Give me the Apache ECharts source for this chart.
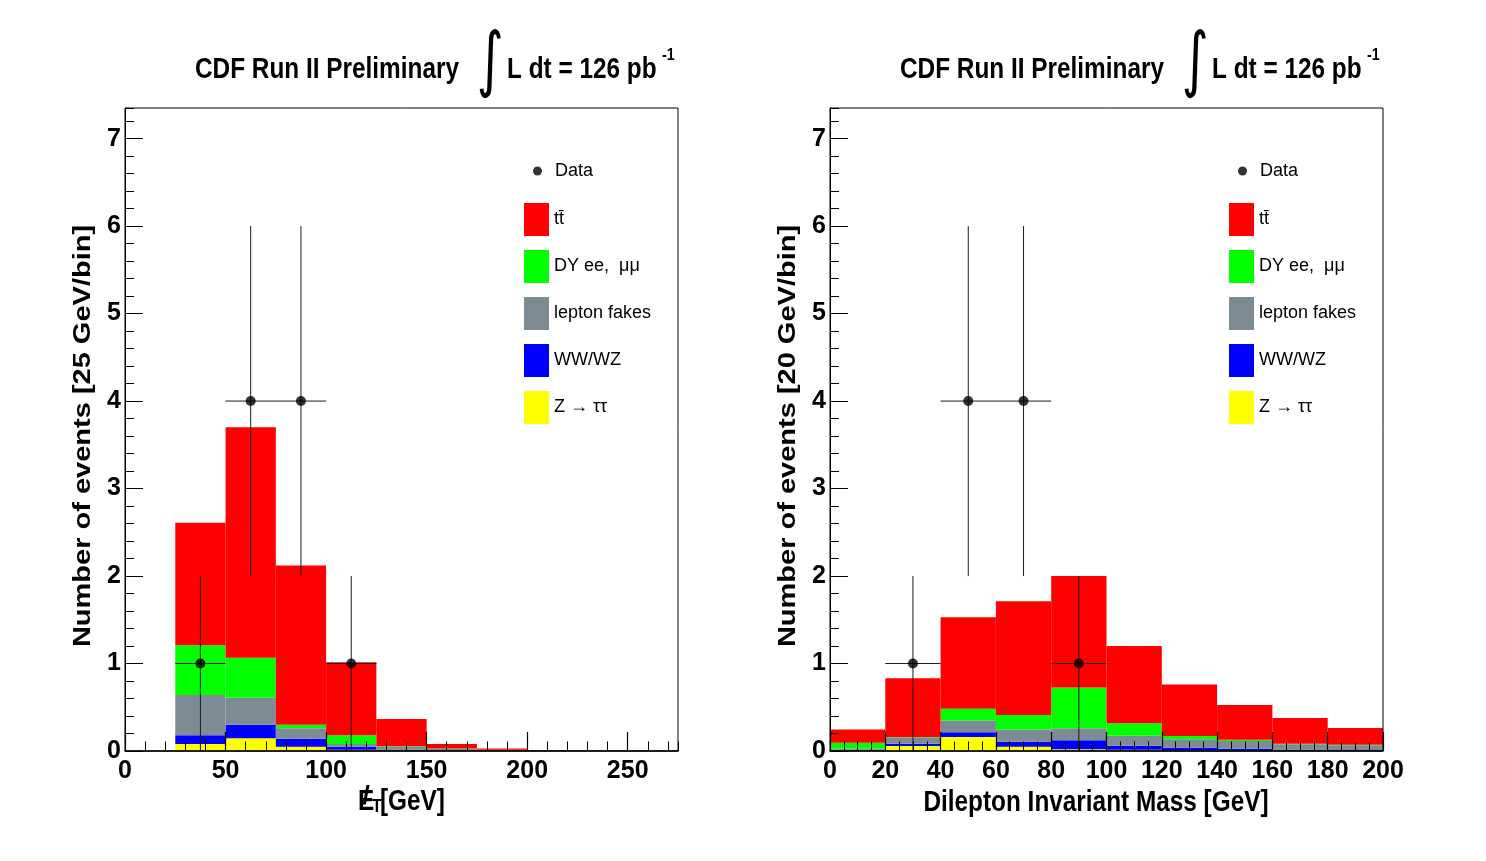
<!DOCTYPE html>
<html><head><meta charset="utf-8">
<script src="https://cdn.jsdelivr.net/npm/echarts@6/dist/echarts.min.js"></script>
<style>html,body{margin:0;padding:0;background:#fff}#c{width:1486px;height:861px}</style>
</head><body><div id="c"></div>
<script>
// ---------- data : missing-ET plot (25 GeV bins) ----------
const metEdges = [25, 50, 75, 100, 125, 150, 175, 200, 225, 250, 275];
const metZtautau = [0.08, 0.145, 0.05, 0.015, 0.005, 0.002, 0.001, 0, 0, 0];
const metWW      = [0.10, 0.155, 0.09, 0.035, 0.01, 0.005, 0.003, 0.002, 0.001, 0.001];
const metFakes   = [0.46, 0.31, 0.12, 0.03, 0.035, 0.02, 0.01, 0.004, 0.003, 0.002];
const metDY      = [0.57, 0.455, 0.04, 0.10, 0.005, 0.003, 0.001, 0, 0, 0];
const metTT      = [1.40, 2.635, 1.82, 0.835, 0.31, 0.05, 0.015, 0.006, 0.004, 0.003];
const metDataX   = [37.5, 62.5, 87.5, 112.5];
const metDataY   = [1, 4, 4, 1];
const metDataXErr = [12.5, 12.5, 12.5, 12.5];
const metDataYErr = [1, 2, 2, 1];

// ---------- data : dilepton mass plot (20 GeV bins) ----------
const mllEdges = [0, 20, 40, 60, 80, 100, 120, 140, 160, 180, 200];
const mllZtautau = [0.005, 0.057, 0.16, 0.05, 0.02, 0.015, 0.005, 0.003, 0.002, 0.002];
const mllWW      = [0.01, 0.026, 0.053, 0.056, 0.102, 0.045, 0.033, 0.022, 0.013, 0.01];
const mllFakes   = [0.012, 0.073, 0.137, 0.141, 0.137, 0.115, 0.095, 0.089, 0.061, 0.054];
const mllDY      = [0.068, 0.005, 0.133, 0.164, 0.468, 0.141, 0.038, 0.015, 0.007, 0.006];
const mllTT      = [0.152, 0.672, 1.047, 1.301, 1.273, 0.884, 0.589, 0.396, 0.294, 0.191];
const mllDataX   = [30, 50, 70, 90];
const mllDataY   = [1, 4, 4, 1];
const mllDataXErr = [10, 10, 10, 10];
const mllDataYErr = [1, 2, 2, 1];

const yTicksMajor = 1, yTicksMinor = 0.2, yMax = 7.35;
const legendNames = ['tt\u0304', 'DY ee,  \u03bc\u03bc', 'lepton fakes', 'WW/WZ', 'Z \u2192 \u03c4\u03c4'];

// ---------- styling ----------
const FF = '"Liberation Sans", Arial, Helvetica, sans-serif';
const COL = {tt:'#ff0000', dy:'#00ff00', fakes:'#7d8b94', ww:'#0000ff', ztt:'#ffff00'};

function histSeries(name, color, edges, base, vals, xi, yi) {
  const data = vals.map((v, i) => [edges[i], edges[i + 1], base[i], base[i] + v]);
  return {
    type: 'custom', name, xAxisIndex: xi, yAxisIndex: yi, z: 2,
    itemStyle: {color}, encode: {x: [0, 1], y: [2, 3]}, data, silent: true,
    renderItem(params, api) {
      const p0 = api.coord([api.value(0), api.value(2)]);
      const p1 = api.coord([api.value(1), api.value(3)]);
      return {type: 'rect', shape: {x: p0[0], y: p1[1], width: p1[0] - p0[0], height: p0[1] - p1[1]},
              style: {fill: color}};
    }
  };
}
function stackSeries(edges, comps, xi, yi) {
  const out = [];
  let base = edges.slice(0, -1).map(() => 0);
  comps.forEach(c => {
    out.push(histSeries(c.name, c.color, edges, base, c.vals, xi, yi));
    base = base.map((b, i) => b + c.vals[i]);
  });
  return out;
}
function errSeries(xs, ys, exs, eys, xi, yi) {
  return {
    type: 'custom', xAxisIndex: xi, yAxisIndex: yi, z: 6, silent: true,
    data: xs.map((x, i) => [x, ys[i], exs[i], eys[i]]),
    renderItem(params, api) {
      const x = api.value(0), y = api.value(1), ex = api.value(2), ey = api.value(3);
      const a = api.coord([x - ex, y]), b = api.coord([x + ex, y]);
      const c = api.coord([x, y - ey]), d = api.coord([x, y + ey]);
      const st = {stroke: '#1a1a1a', lineWidth: 1};
      return {type: 'group', children: [
        {type: 'line', shape: {x1: a[0], y1: a[1], x2: b[0], y2: b[1]}, style: st},
        {type: 'line', shape: {x1: c[0], y1: c[1], x2: d[0], y2: d[1]}, style: st}
      ]};
    }
  };
}
function dataSeries(xs, ys, xi, yi) {
  return {type: 'scatter', name: 'Data', xAxisIndex: xi, yAxisIndex: yi, z: 7, silent: true,
          symbol: 'circle', symbolSize: 10, itemStyle: {color: '#000'},
          data: xs.map((x, i) => [x, ys[i]])};
}
function comps(z, w, f, d, t) {
  return [
    {name: legendNames[4], color: COL.ztt, vals: z},
    {name: legendNames[3], color: COL.ww, vals: w},
    {name: legendNames[2], color: COL.fakes, vals: f},
    {name: legendNames[1], color: COL.dy, vals: d},
    {name: legendNames[0], color: COL.tt, vals: t}
  ];
}

function mainX(grid, max, interval, minorSplit) {
  return {type: 'value', gridIndex: grid, min: 0, max, interval, position: 'bottom', z: 5,
    axisLine: {show: true, onZero: false, lineStyle: {color: '#000', width: 1.5}},
    axisTick: {show: true, inside: true, length: 19, lineStyle: {color: '#000', width: 1.2}},
    minorTick: minorSplit ? {show: true, splitNumber: minorSplit, length: 9.5, lineStyle: {color: '#000', width: 1}} : {show: false},
    axisLabel: {show: true, margin: 8, color: '#000', fontSize: 25, fontWeight: 'bold', fontFamily: FF,
                showMaxLabel: max % interval === 0, showMinLabel: true},
    splitLine: {show: false}, minorSplitLine: {show: false}};
}
function minorX(grid, max, interval) {
  return {type: 'value', gridIndex: grid, min: 0, max, interval, position: 'bottom', z: 5,
    axisLine: {show: false}, axisLabel: {show: false}, splitLine: {show: false},
    axisTick: {show: true, inside: true, length: 9.5, lineStyle: {color: '#000', width: 1}}};
}
function mainY(grid) {
  return {type: 'value', gridIndex: grid, min: 0, max: yMax, interval: yTicksMajor, position: 'left', z: 5,
    axisLine: {show: true, onZero: false, lineStyle: {color: '#000', width: 1}},
    axisTick: {show: true, inside: true, length: 18, lineStyle: {color: '#000', width: 1}},
    axisLabel: {show: true, margin: 4, color: '#000', fontSize: 25, fontWeight: 'bold', fontFamily: FF,
                showMaxLabel: false, showMinLabel: true},
    splitLine: {show: false}};
}
function minorY(grid) {
  return {type: 'value', gridIndex: grid, min: 0, max: yMax, interval: yTicksMinor, position: 'left', z: 5,
    axisLine: {show: false}, axisLabel: {show: false}, splitLine: {show: false},
    axisTick: {show: true, inside: true, length: 9, lineStyle: {color: '#000', width: 1}}};
}

function txt(x, y, text, size, o) {
  o = o || {};
  return {type: 'text', x, y, rotation: o.rot || 0,
    scaleX: o.sx === undefined ? 0.84 : o.sx, scaleY: o.sy === undefined ? 1 : o.sy, z: 10,
    style: {text, fontSize: size, fontWeight: o.w || 'bold', fontFamily: o.ff || FF, fill: '#000',
            align: o.align || 'left', verticalAlign: 'middle',
            textAlign: o.align || 'left', textVerticalAlign: 'middle'}};
}
function headerTexts(dx) {
  return [
    txt(195 + dx, 70, 'CDF Run II Preliminary', 29),
    txt(490 + dx, 64, '\u222B', 62, {align: 'center', ff: '"DejaVu Sans", sans-serif', w: 'normal', sx: 0.84, sy: 1.15}),
    txt(507 + dx, 70, 'L dt = 126 pb', 29),
    txt(662 + dx, 55, '-1', 17)
  ];
}
function legendPair(left, idPrefix) {
  return [
    {id: idPrefix + 'd', data: [{name: 'Data', icon: 'circle'}], left: left + 9, top: 162, padding: 0,
     itemWidth: 25, itemHeight: 9, selectedMode: false,
     textStyle: {fontSize: 18, color: '#000', fontFamily: FF}},
    {id: idPrefix + 'h', data: legendNames.map(n => ({name: n, icon: 'rect'})), orient: 'vertical',
     left, top: 203, padding: 0, itemWidth: 25, itemHeight: 33, itemGap: 14, selectedMode: false,
     textStyle: {fontSize: 18, color: '#000', fontFamily: FF}}
  ];
}

const chart = echarts.init(document.getElementById('c'), null, {renderer: 'canvas'});
const series = [].concat(
  stackSeries(metEdges, comps(metZtautau, metWW, metFakes, metDY, metTT), 0, 0),
  [errSeries(metDataX, metDataY, metDataXErr, metDataYErr, 0, 0), dataSeries(metDataX, metDataY, 0, 0)],
  stackSeries(mllEdges, comps(mllZtautau, mllWW, mllFakes, mllDY, mllTT), 2, 2),
  [errSeries(mllDataX, mllDataY, mllDataXErr, mllDataYErr, 2, 2), dataSeries(mllDataX, mllDataY, 2, 2)]
);

chart.setOption({
  animation: false,
  backgroundColor: '#fff',
  grid: [
    {left: 125, top: 108, width: 553, height: 643, containLabel: false, show: true, z: 5,
     borderColor: '#000', borderWidth: 1, backgroundColor: 'transparent'},
    {left: 830, top: 108, width: 553, height: 643, containLabel: false, show: true, z: 5,
     borderColor: '#000', borderWidth: 1, backgroundColor: 'transparent'}
  ],
  xAxis: [mainX(0, 275, 50, 0), minorX(0, 275, 10), mainX(1, 200, 20, 4), minorX(1, 200, 20)],
  yAxis: [mainY(0), minorY(0), mainY(1), minorY(1)],
  legend: [].concat(legendPair(524, 'L'), legendPair(1229, 'R')),
  series,
  graphic: [].concat(
    headerTexts(0), headerTexts(705),
    [
      txt(83, 436, 'Number of events [25 GeV/bin]', 29, {rot: Math.PI / 2, align: 'center', sx: 1, sy: 0.84}),
      txt(788, 436, 'Number of events [20 GeV/bin]', 29, {rot: Math.PI / 2, align: 'center', sx: 1, sy: 0.84}),
      txt(358, 802, 'E', 29),
      txt(366, 797, '/', 26, {align: 'center', sx: 1}),
      txt(372, 807, 'T', 19),
      txt(380, 802, '[GeV]', 29),
      txt(1096, 803, 'Dilepton Invariant Mass [GeV]', 29, {align: 'center'})
    ]
  )
});
</script></body></html>
